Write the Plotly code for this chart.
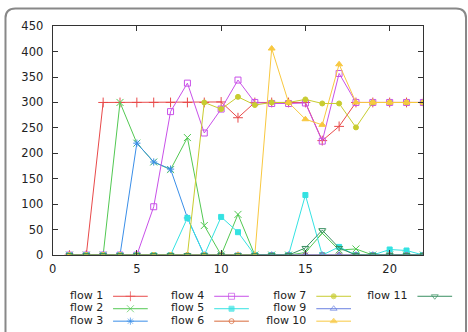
import plotly.graph_objects as go

W, H = 468, 332

x_vals = list(range(1, 23))
names = ["flow 1", "flow 2", "flow 3", "flow 4", "flow 5", "flow 6",
         "flow 7", "flow 9", "flow 10", "flow 11"]

flow1 = [0, 0, 300, 300, 300, 300, 300, 300, 300, 301, 270, 300, 300, 300, 300, 225, 253, 300, 300, 300, 300, 300]
flow2 = [0, 0, 0, 300, 220, 183, 168, 231, 58, 0, 80, 0, 0, 0, 5, 43, 10, 12, 0, 0, 0, 0]
flow3 = [0, 0, 0, 0, 220, 183, 169, 73, 0, 0, 0, 0, 0, 0, 0, 0, 0, 0, 0, 0, 0, 0]
flow4 = [0, 0, 0, 0, 0, 95, 282, 338, 240, 287, 344, 300, 298, 298, 299, 224, 357, 300, 300, 300, 300, 300]
flow5 = [0, 0, 0, 0, 0, 0, 0, 73, 0, 75, 45, 0, 0, 0, 118, 0, 16, 0, 0, 11, 9, 0]
flow6 = [0, 0, 0, 0, 0, 0, 0, 0, 0, 0, 0, 0, 0, 0, 0, 0, 0, 0, 0, 0, 0, 0]
flow7 = [0, 0, 0, 0, 0, 0, 0, 0, 300, 287, 311, 295, 300, 300, 306, 298, 298, 251, 300, 300, 300, 300]
flow9 = [0, 0, 0, 0, 0, 0, 0, 0, 0, 0, 0, 0, 0, 0, 0, 0, 0, 0, 0, 0, 0, 0]
flow10 = [0, 0, 0, 0, 0, 0, 0, 0, 0, 0, 0, 0, 406, 300, 267, 256, 375, 300, 300, 300, 300, 300]
flow11 = [0, 0, 0, 0, 0, 0, 0, 0, 0, 0, 0, 0, 0, 0, 14, 49, 14, 0, 0, 0, 0, 0]

series = [flow1, flow2, flow3, flow4, flow5, flow6, flow7, flow9, flow10, flow11]

x_ticks = [0, 5, 10, 15, 20]
y_ticks = [0, 50, 100, 150, 200, 250, 300, 350, 400, 450]

colors = ["#e84a4a", "#52c852", "#3a8ee8", "#c850e8", "#34e2e2", "#d86a3a",
          "#c8cc30", "#6a80e0", "#f8c840", "#3a9062"]
symbols = ["cross-thin-open", "x-thin-open", "asterisk-open", "square-open", "square",
           "circle-open", "circle", "triangle-up-open", "triangle-up", "triangle-down-open"]
sizes = [7, 7, 6, 6, 5, 5, 5, 6, 6, 6]

# plot area in pixels
PL, PR, PT, PB = 49, 423, 20, 259

fig = go.Figure()

for name, ys, c, s, sz in zip(names, series, colors, symbols, sizes):
    fig.add_trace(go.Scatter(
        x=x_vals, y=ys, mode="lines+markers", name=name,
        line=dict(color=c, width=1),
        marker=dict(symbol=s, size=sz, color=c, line=dict(color=c, width=1)),
        showlegend=False, xaxis="x", yaxis="y",
    ))

# gnuplot-style key below the plot (text left, sample right), drawn on a pixel overlay axis
rows_per_col = 3
col_right = [100, 202, 305, 407]
row_y = [302, 315, 328]
for i, (name, c, s, sz) in enumerate(zip(names, colors, symbols, sizes)):
    col, row = divmod(i, rows_per_col)
    xr = col_right[col]
    yy = row_y[row]
    fig.add_trace(go.Scatter(
        x=[xr + 10, xr + 27.5, xr + 45], y=[yy, yy, yy], mode="lines+markers",
        line=dict(color=c, width=1),
        marker=dict(symbol=s, size=[0, sz, 0], color=c, line=dict(color=c, width=1)),
        showlegend=False, xaxis="x2", yaxis="y2", hoverinfo="skip",
    ))
    fig.add_trace(go.Scatter(
        x=[xr], y=[yy], mode="text", text=[name], textposition="middle left",
        textfont=dict(family="DejaVu Sans", size=11, color="#222"),
        showlegend=False, xaxis="x2", yaxis="y2", hoverinfo="skip",
    ))

axis_common = dict(showline=True, linecolor="#333", linewidth=1, mirror="ticks",
                   ticks="inside", ticklen=5, tickcolor="#333", tickwidth=1,
                   showgrid=False, zeroline=False,
                   tickfont=dict(family="DejaVu Sans", size=11.5, color="#222"))

fig.update_layout(
    width=W, height=H,
    margin=dict(l=0, r=0, t=0, b=0),
    paper_bgcolor="white", plot_bgcolor="rgba(0,0,0,0)",
    xaxis=dict(domain=[PL / W, PR / W], range=[0, 22], tickvals=x_ticks,
               ticklabelstandoff=3, anchor="y", **axis_common),
    yaxis=dict(domain=[1 - PB / H, 1 - PT / H], range=[0, 450], tickvals=y_ticks,
               ticklabelstandoff=6, anchor="x", **axis_common),
    xaxis2=dict(domain=[0, 1], range=[0, W], visible=False, anchor="y2", fixedrange=True),
    yaxis2=dict(domain=[0, 1], range=[H, 0], visible=False, anchor="x2", fixedrange=True),
)

# rounded outer frame
def px(xp, yp):
    return f"{xp / W:.5f},{1 - yp / H:.5f}"

r = 10
x0, x1, y0, y1 = 1.5, 466, 1.5, 345
path = (f"M {px(x0, y1)} L {px(x0, y0 + r)} Q {px(x0, y0)} {px(x0 + r, y0)} "
        f"L {px(x1 - r, y0)} Q {px(x1, y0)} {px(x1, y0 + r)} L {px(x1, y1)}")
fig.add_shape(type="path", path=path, xref="paper", yref="paper",
              line=dict(color="#888", width=2))

fig.write_html("out.html")
